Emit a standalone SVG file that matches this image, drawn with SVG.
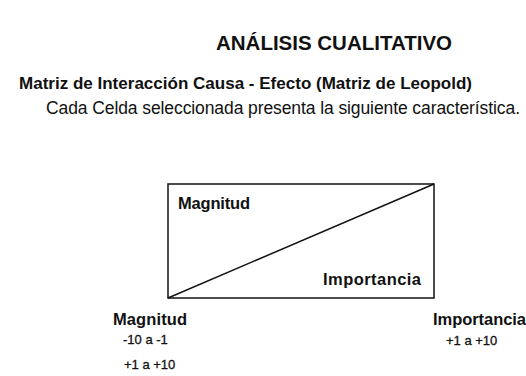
<svg xmlns="http://www.w3.org/2000/svg" width="526" height="376" viewBox="0 0 526 376">
  <style>
    text { font-family: "Liberation Sans", Arial, sans-serif; fill: #111; }
    .b { font-weight: bold; }
    .title { font-size: 20.5px; }
    .sub { font-size: 17px; }
    .body { font-size: 17.5px; }
    .lbl { font-size: 16.5px; }
    .num { font-size: 13px; stroke: #111; stroke-width: 0.3; }
    .edge { fill: none; stroke: #111; stroke-width: 1.5; }
  </style>
  <rect x="0" y="0" width="526" height="376" fill="#ffffff"/>
  <g id="header">
    <text class="title b" x="216" y="50" textLength="236">ANÁLISIS CUALITATIVO</text>
    <text class="sub b" x="19" y="88.5" textLength="453">Matriz de Interacción Causa - Efecto (Matriz de Leopold)</text>
    <text class="body" x="46" y="114" textLength="474">Cada Celda seleccionada presenta la siguiente característica.</text>
  </g>
  <g id="cell">
    <rect class="edge" x="168" y="184" width="266" height="114"/>
    <text class="lbl b" x="178" y="209" textLength="72">Magnitud</text>
    <text class="lbl b" x="323" y="285" textLength="98">Importancia</text>
  </g>
  <g id="connectors">
    <line class="edge" x1="168" y1="298" x2="434" y2="184"/>
  </g>
  <g id="legend-magnitud">
    <text class="lbl b" x="113" y="324.5" textLength="74">Magnitud</text>
    <text class="num" x="123" y="344">-10 a -1</text>
    <text class="num" x="124" y="369">+1 a +10</text>
  </g>
  <g id="legend-importancia">
    <text class="lbl b" x="433" y="324.5" textLength="93">Importancia</text>
    <text class="num" x="446" y="345">+1 a +10</text>
  </g>
</svg>
